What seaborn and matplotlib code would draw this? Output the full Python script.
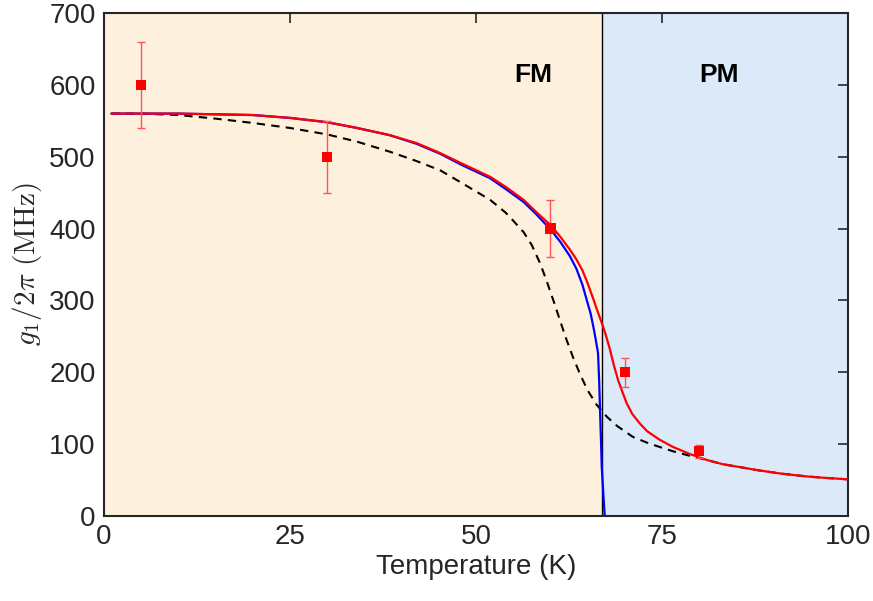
import numpy as np
import pandas as pd
import matplotlib
matplotlib.use("Agg")
import matplotlib.pyplot as plt
import seaborn as sns

# ---- data ----
red_T = [1, 5, 10, 15, 20, 25, 30, 34, 38.4, 42, 45.2, 48, 51.9, 54, 56.4, 58, 60,
         61.3, 62.6, 63.5, 64.3, 65, 65.7, 66.3, 67, 67.5, 68, 68.5, 69.1, 69.7,
         70.25, 71, 72, 73, 74.7, 76.5, 78.8, 81, 83.2, 85.5, 87.7, 91, 94.5, 97, 100]
red_g = [560, 560, 560, 559, 558, 554, 548, 540, 530, 519, 505, 491, 472, 458, 440,
         424, 405, 389, 371, 357, 342, 324, 304, 286, 266, 250, 232, 211, 189, 172,
         157, 142, 129, 118, 106, 96, 86, 78, 72, 68, 64, 59, 55, 53, 51]

blue_T = [1, 5, 10, 15, 20, 25, 30, 34, 38.4, 42, 45.2, 48, 51.9, 54, 56.4, 58, 60,
          61.3, 62.6, 63.5, 64.3, 64.9, 65.4, 65.8, 66.1, 66.4, 66.55, 66.67, 66.8,
          66.9, 67.1, 67.3]
blue_g = [560, 560, 560, 559, 558, 554, 548, 540, 530, 518, 504, 489, 470, 455, 437,
          421, 399, 382, 362, 344, 322, 300, 282, 262, 245, 227, 190, 147, 105,
          69, 33, 0]

dash_T = [1, 5, 10, 15, 20, 25, 30, 34, 38.4, 42, 45.2, 48, 51.9, 54, 55, 56.4, 57.5,
          58.6, 59.5, 60.4, 61.3, 62, 63, 64, 65, 66.2, 67.6, 69, 71.1, 73, 74.7,
          76.5, 78.3, 81, 83.2, 85.5, 87.7, 91, 94.5, 97, 100]
dash_g = [560, 560, 558, 553, 547, 540, 531, 521, 507, 494, 481, 464, 440, 422, 411,
          395, 377, 352, 327, 300, 272, 250, 222, 197, 175, 155, 138, 125, 110, 102,
          96, 90, 85, 78, 72, 68, 64, 59, 55, 53, 51]

pts_T = [5, 30, 60, 70, 80]
pts_g = [600, 500, 400, 200, 90]
pts_err = [60, 50, 40, 20, 9]

Tc = 67
x_ticks = [0, 25, 50, 75, 100]
y_ticks = [0, 100, 200, 300, 400, 500, 600, 700]

# ---- style ----
sns.set_theme(style="white")
plt.rcParams['font.family'] = ['Liberation Sans', 'DejaVu Sans']
plt.rcParams['mathtext.fontset'] = 'cm'
plt.rcParams['axes.edgecolor'] = '#262626'
plt.rcParams['xtick.color'] = '#262626'
plt.rcParams['ytick.color'] = '#262626'

fig = plt.figure(figsize=(8.73, 6.01), dpi=100)
ax = fig.add_axes([104 / 873, 1 - 516 / 601, (848 - 104) / 873, (516 - 13) / 601])

ax.axvspan(0, Tc, color='#FDF0DC', lw=0, zorder=0)
ax.axvspan(Tc, 100, color='#DCE9F9', lw=0, zorder=0)
ax.axvline(Tc, color='black', lw=1.0, zorder=1)

df_red = pd.DataFrame({'T': red_T, 'g': red_g})
df_blue = pd.DataFrame({'T': blue_T, 'g': blue_g})
df_dash = pd.DataFrame({'T': dash_T, 'g': dash_g})
df_pts = pd.DataFrame({'T': pts_T, 'g': pts_g, 'err': pts_err})

sns.lineplot(data=df_dash, x='T', y='g', ax=ax, color='black', lw=1.5,
             linestyle=(0, (4, 3)), zorder=3, sort=False)
sns.lineplot(data=df_blue, x='T', y='g', ax=ax, color='#0000FF', lw=1.6, zorder=4, sort=False)
sns.lineplot(data=df_red, x='T', y='g', ax=ax, color='#FF0000', lw=1.6, zorder=5, sort=False)

ax.errorbar(df_pts['T'], df_pts['g'], yerr=df_pts['err'], fmt='none',
            ecolor='#FF5555', elinewidth=1.0, capsize=3, capthick=1.0, zorder=6)
sns.scatterplot(data=df_pts, x='T', y='g', ax=ax, marker='s', color='#FF0000',
                s=55, edgecolor='none', zorder=7)

ax.text(57.7, 614, 'FM', fontsize=19, fontweight='bold', ha='center', va='center', color='black')
ax.text(82.7, 614, 'PM', fontsize=19, fontweight='bold', ha='center', va='center', color='black')

ax.set_xlim(0, 100)
ax.set_ylim(0, 700)
ax.set_xticks(x_ticks)
ax.set_yticks(y_ticks)
ax.tick_params(direction='in', length=7, width=1.2, top=True, right=True,
               labelsize=20, pad=6, labelcolor='#262626')
for s in ax.spines.values():
    s.set_linewidth(1.5)
    s.set_color('#262626')

ax.set_xlabel('Temperature (K)', fontsize=20, color='#262626', labelpad=3)
ax.set_ylabel(r'$g_1/2\pi\ (\mathrm{MHz})$', fontsize=21, color='#262626', labelpad=4)

fig.savefig('out.png', dpi=100)
